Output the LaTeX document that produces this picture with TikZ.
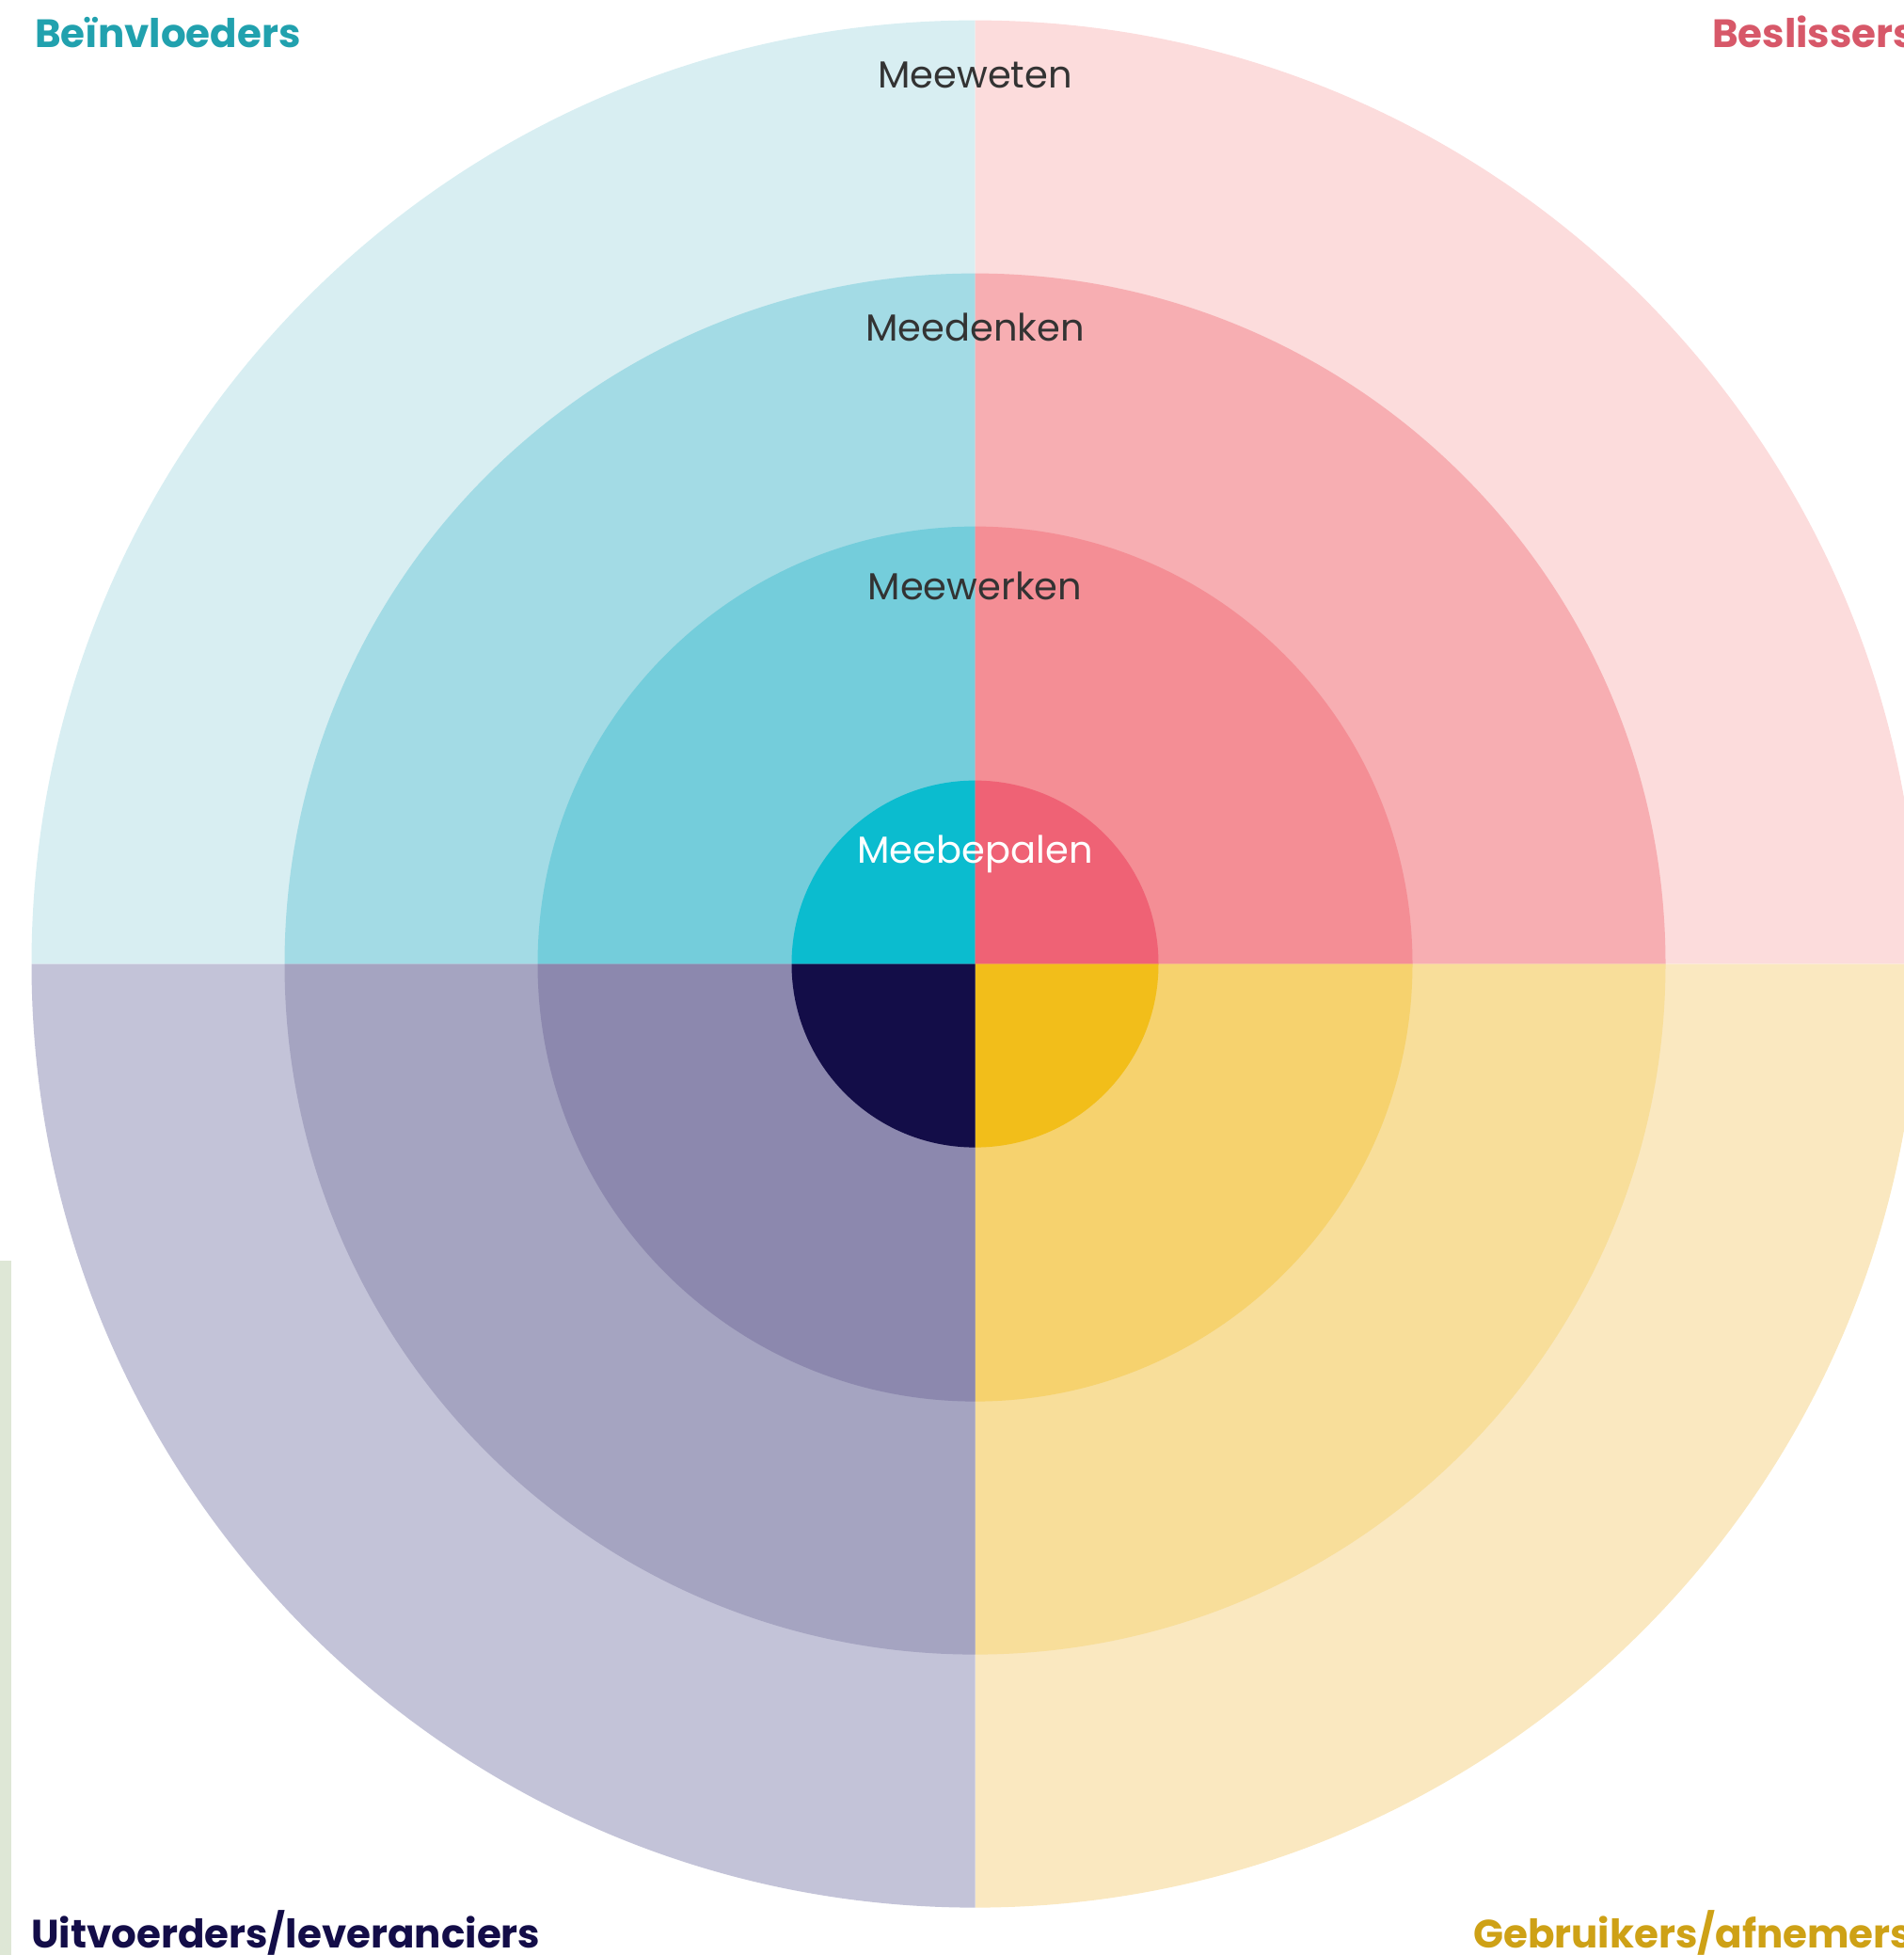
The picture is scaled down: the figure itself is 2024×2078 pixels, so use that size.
\documentclass[tikz,border=0pt]{standalone}
\usepackage{fontspec}
\setmainfont{Poppins}
\definecolor{blueA}{HTML}{D8EEF2}
\definecolor{blueB}{HTML}{A3DBE5}
\definecolor{blueC}{HTML}{74CDDB}
\definecolor{blueD}{HTML}{0BBCCF}
\definecolor{pinkA}{HTML}{FCDCDC}
\definecolor{pinkB}{HTML}{F7AEB2}
\definecolor{pinkC}{HTML}{F48E95}
\definecolor{pinkD}{HTML}{EF6275}
\definecolor{violetA}{HTML}{C3C3D8}
\definecolor{violetB}{HTML}{A5A4C1}
\definecolor{violetC}{HTML}{8C88AE}
\definecolor{violetD}{HTML}{130D48}
\definecolor{goldA}{HTML}{FAE8C0}
\definecolor{goldB}{HTML}{F8DE9A}
\definecolor{goldC}{HTML}{F6D26E}
\definecolor{goldD}{HTML}{F2BE1A}
\definecolor{stripgreen}{HTML}{DEE7D6}
\definecolor{ringtext}{HTML}{333333}
\begin{document}
\begin{tikzpicture}[x=1pt,y=-1pt,
  ring/.style={inner sep=0pt, anchor=base, text=ringtext, font=\fontsize{40}{48}\selectfont},
  group/.style={inner sep=0pt, anchor=base west, font=\fontsize{42}{50}\selectfont\bfseries}]
\useasboundingbox (0,0) rectangle (2024,2078);
\clip (0,0) rectangle (2024,2078);
\coordinate (c) at (1036.5,1024.6);
\fill[stripgreen] (0,1340) rectangle (12,2078);
% outer ring
\fill[blueA] (c) -- ++(180:1003) arc[start angle=180, end angle=270, radius=1003] -- cycle;
\fill[pinkA] (c) -- ++(270:1003) arc[start angle=270, end angle=360, radius=1003] -- cycle;
\fill[goldA] (c) -- ++(0:1003) arc[start angle=0, end angle=90, radius=1003] -- cycle;
\fill[violetA] (c) -- ++(90:1003) arc[start angle=90, end angle=180, radius=1003] -- cycle;
% second ring
\fill[blueB] (c) -- ++(180:734) arc[start angle=180, end angle=270, radius=734] -- cycle;
\fill[pinkB] (c) -- ++(270:734) arc[start angle=270, end angle=360, radius=734] -- cycle;
\fill[goldB] (c) -- ++(0:734) arc[start angle=0, end angle=90, radius=734] -- cycle;
\fill[violetB] (c) -- ++(90:734) arc[start angle=90, end angle=180, radius=734] -- cycle;
% third ring
\fill[blueC] (c) -- ++(180:465) arc[start angle=180, end angle=270, radius=465] -- cycle;
\fill[pinkC] (c) -- ++(270:465) arc[start angle=270, end angle=360, radius=465] -- cycle;
\fill[goldC] (c) -- ++(0:465) arc[start angle=0, end angle=90, radius=465] -- cycle;
\fill[violetC] (c) -- ++(90:465) arc[start angle=90, end angle=180, radius=465] -- cycle;
% core
\fill[blueD] (c) -- ++(180:195) arc[start angle=180, end angle=270, radius=195] -- cycle;
\fill[pinkD] (c) -- ++(270:195) arc[start angle=270, end angle=360, radius=195] -- cycle;
\fill[goldD] (c) -- ++(0:195) arc[start angle=0, end angle=90, radius=195] -- cycle;
\fill[violetD] (c) -- ++(90:195) arc[start angle=90, end angle=180, radius=195] -- cycle;
% ring labels
\node[ring] (weten) at (1036.5,93) {Meeweten};
\node[ring] (denken) at (1036.5,362) {Meedenken};
\node[ring] (werken) at (1036.5,637) {Meewerken};
\node[ring, text=white] (bepalen) at (1036.5,917) {Meebepalen};
% groups
\node[group, text=blueD!80!black!90] (invloed) at (37,50) {Beïnvloeders};
\node[group, text=pinkD!90!black] (beslis) at (1820,50) {Beslissers};
\node[group, text=violetD] (uitvoer) at (33,2070) {Uitvoerders/leveranciers};
\node[group, text=goldD!85!black] (gebruik) at (1566,2070) {Gebruikers/afnemers};
\end{tikzpicture}
\end{document}
